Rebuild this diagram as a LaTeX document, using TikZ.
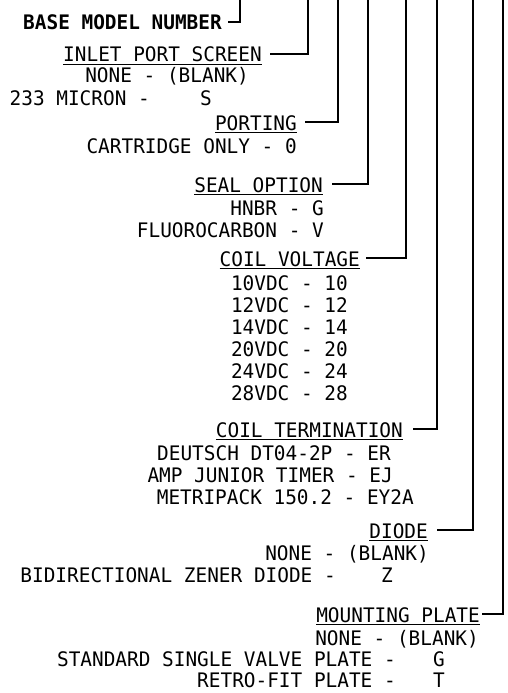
\documentclass[tikz,border=0pt]{standalone}
\usepackage{fontspec}
\newfontfamily\cadfont[FakeStretch=0.97]{DejaVu Sans Mono}
\newcommand{\cadtext}{\cadfont\fontsize{20}{22}\selectfont}
\newcommand{\hdrline}[1]{\vtop{\hbox{#1}\kern1.5pt\hrule height 1.2pt}}

\begin{document}
\begin{tikzpicture}[x=1pt, y=-1pt,
    txt/.style={font=\cadtext, inner sep=0pt, text height=16pt, text depth=0pt, anchor=base east},
    code/.style={txt, anchor=base},
    hdr/.style={txt},
    lead/.style={line width=1.2pt}]
  \useasboundingbox (0,0) rectangle (507,693);

  \node[hdr, font=\cadtext\bfseries] (base) at (222,30) {BASE MODEL NUMBER};

  \node[hdr] (inlet) at (262,62) {\hdrline{INLET PORT SCREEN}};
  \node[txt] (inlet1) at (249,82) {NONE - (BLANK)};
  \node[txt] (inlet2) at (150,105) {233 MICRON -};
  \node[code] (inlet2c) at (206,105) {S};

  \node[hdr] (port) at (297,130) {\hdrline{PORTING}};
  \node[txt] (port1) at (297,153) {CARTRIDGE ONLY - 0};

  \node[hdr] (seal) at (323,192) {\hdrline{SEAL OPTION}};
  \node[txt] (seal1) at (324,215) {HNBR - G};
  \node[txt] (seal2) at (324,237) {FLUOROCARBON - V};

  \node[hdr] (volt) at (360,266) {\hdrline{COIL VOLTAGE}};
  \foreach \v [count=\i] in {10,12,14,20,24,28}
    \node[txt] (volt\i) at (348,268+22*\i) {\v VDC - \v};

  \node[hdr] (term) at (403,437) {\hdrline{COIL TERMINATION}};
  \node[txt] (term1) at (391,460) {DEUTSCH DT04-2P - ER};
  \node[txt] (term2) at (393,482) {AMP JUNIOR TIMER - EJ};
  \node[txt] (term3) at (414,504) {METRIPACK 150.2 - EY2A};

  \node[hdr] (diode) at (428,538) {\hdrline{DIODE}};
  \node[txt] (diode1) at (429,560) {NONE - (BLANK)};
  \node[txt] (diode2) at (336,582) {BIDIRECTIONAL ZENER DIODE -};
  \node[code] (diode2c) at (387,582) {Z};

  \node[hdr] (mount) at (480,622) {\hdrline{MOUNTING PLATE}};
  \node[txt] (mount1) at (479,645) {NONE - (BLANK)};
  \node[txt] (mount2) at (396,666) {STANDARD SINGLE VALVE PLATE -};
  \node[code] (mount2c) at (439,666) {G};
  \node[txt] (mount3) at (396,687) {RETRO-FIT PLATE -};
  \node[code] (mount3c) at (439,687) {T};

  % leaders up to the model code
  \foreach \hd/\x/\gap in {base/240/6pt, inlet/308/8pt, port/338/8pt, seal/368/9pt,
                           volt/406/6pt, term/437/10pt, diode/473/9pt, mount/503/2pt}{
    \coordinate (\hd-top) at (\x,0);
    \draw[lead, shorten <=\gap] (\hd.east) -| (\hd-top);
  }
\end{tikzpicture}
\end{document}
